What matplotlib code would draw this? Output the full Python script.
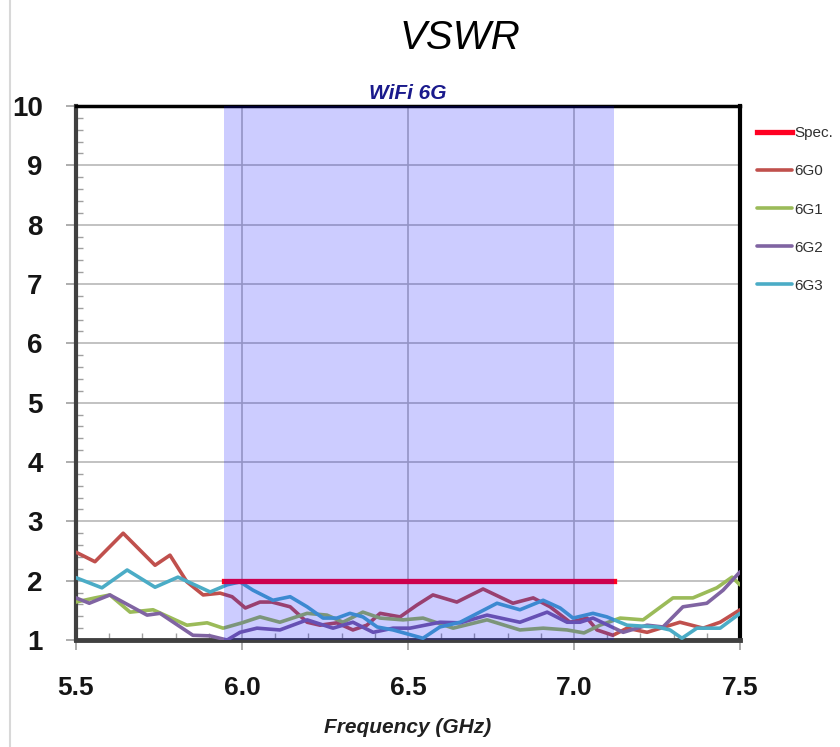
import numpy as np
import matplotlib.pyplot as plt
from matplotlib.ticker import MultipleLocator

plt.rcParams['font.family'] = ['Liberation Sans', 'DejaVu Sans']

# band / spec
band_lo, band_hi = 5.945, 7.12
spec_f = [5.945, 7.12]
spec_v = [2.0, 2.0]

# 6G0 (red)
f0 = [5.5, 5.557, 5.642, 5.738, 5.783, 5.834, 5.883, 5.934, 5.97, 6.01, 6.054, 6.09, 6.145,
      6.196, 6.235, 6.286, 6.334, 6.376, 6.416, 6.476, 6.527, 6.575, 6.647, 6.726, 6.816,
      6.877, 6.928, 6.988, 7.039, 7.069, 7.117, 7.16, 7.22, 7.319, 7.389, 7.44, 7.5]
v0 = [2.48, 2.32, 2.80, 2.26, 2.43, 1.98, 1.76, 1.79, 1.73, 1.54, 1.64, 1.64, 1.56,
      1.30, 1.25, 1.29, 1.17, 1.25, 1.45, 1.39, 1.59, 1.76, 1.64, 1.86, 1.62,
      1.71, 1.56, 1.30, 1.37, 1.17, 1.08, 1.20, 1.13, 1.30, 1.20, 1.30, 1.51]

# 6G1 (green)
f1 = [5.5, 5.557, 5.602, 5.663, 5.732, 5.834, 5.895, 5.943, 6.0, 6.054, 6.114, 6.196, 6.256,
      6.304, 6.364, 6.416, 6.485, 6.545, 6.636, 6.738, 6.837, 6.907, 6.979, 7.03, 7.078,
      7.139, 7.208, 7.298, 7.358, 7.43, 7.476, 7.5]
v1 = [1.64, 1.71, 1.76, 1.47, 1.51, 1.25, 1.29, 1.20, 1.29, 1.39, 1.30, 1.45, 1.42,
      1.30, 1.47, 1.37, 1.34, 1.37, 1.20, 1.34, 1.17, 1.20, 1.17, 1.12, 1.25,
      1.37, 1.34, 1.71, 1.71, 1.88, 2.06, 1.93]

# 6G2 (purple)
f2 = [5.5, 5.54, 5.602, 5.714, 5.753, 5.852, 5.904, 5.955, 5.994, 6.045, 6.114, 6.196, 6.274,
      6.334, 6.395, 6.455, 6.506, 6.596, 6.657, 6.738, 6.837, 6.919, 6.979, 7.018, 7.057,
      7.148, 7.22, 7.268, 7.328, 7.4, 7.449, 7.5]
v2 = [1.71, 1.62, 1.76, 1.42, 1.45, 1.08, 1.07, 1.00, 1.13, 1.20, 1.17, 1.34, 1.20,
      1.30, 1.13, 1.20, 1.20, 1.30, 1.29, 1.42, 1.30, 1.47, 1.30, 1.30, 1.37,
      1.13, 1.25, 1.22, 1.56, 1.62, 1.84, 2.15]

# 6G3 (cyan)
f3 = [5.5, 5.578, 5.654, 5.738, 5.807, 5.904, 5.955, 5.994, 6.033, 6.093, 6.145, 6.196, 6.244,
      6.286, 6.325, 6.364, 6.407, 6.455, 6.5, 6.545, 6.596, 6.657, 6.768, 6.837, 6.907,
      6.958, 6.997, 7.057, 7.099, 7.16, 7.25, 7.289, 7.325, 7.37, 7.44, 7.5]
v3 = [2.05, 1.88, 2.18, 1.89, 2.06, 1.81, 1.93, 1.98, 1.84, 1.67, 1.73, 1.56, 1.37,
      1.37, 1.45, 1.39, 1.22, 1.17, 1.10, 1.03, 1.22, 1.30, 1.62, 1.51, 1.67,
      1.54, 1.37, 1.45, 1.39, 1.25, 1.22, 1.17, 1.03, 1.20, 1.20, 1.45]

xticks = [5.5, 6.0, 6.5, 7.0, 7.5]
yticks = list(range(1, 11))

fig = plt.figure(figsize=(8.4, 7.47), dpi=100)
ax = fig.add_axes([0.0905, 0.1432, 0.7905, 0.7149])

kw = dict(lw=2.6, zorder=3, solid_joinstyle='round', solid_capstyle='round')
ax.plot(f0, v0, color='#c0504d', label='6G0', **kw)
ax.plot(f1, v1, color='#9bbb59', label='6G1', **kw)
ax.plot(f2, v2, color='#8064a2', label='6G2', **kw)
ax.plot(f3, v3, color='#4bacc6', label='6G3', **kw)
spec, = ax.plot(spec_f, spec_v, color='#ff0022', lw=3.8, label='Spec.', zorder=3.5)

# band shading laid over the curves
ax.axvspan(band_lo, band_hi, color='#0000ff', alpha=0.2, lw=0, zorder=4)

ax.set_xlim(5.5, 7.5)
ax.set_ylim(1, 10)
ax.set_xticks(xticks)
ax.set_xticklabels([f'{t:.1f}' for t in xticks])
ax.set_yticks(yticks)
ax.xaxis.set_minor_locator(MultipleLocator(0.1))
ax.yaxis.set_minor_locator(MultipleLocator(0.2))
ax.grid(True, which='major', color='#b8b8b8', lw=1.2, zorder=1)
ax.set_axisbelow(True)

ax.tick_params(axis='both', which='major', direction='out', length=7, width=1.2,
               color='#a0a0a0')
ax.tick_params(axis='both', which='minor', direction='in', length=5, width=1,
               color='#a0a0a0')
ax.tick_params(axis='y', labelsize=20, pad=17)
ax.tick_params(axis='x', labelsize=19, pad=19)
for lab in ax.get_xticklabels() + ax.get_yticklabels():
    lab.set_fontweight('bold')
    lab.set_color('#151515')

ax.spines['left'].set_color('#404040')
ax.spines['left'].set_linewidth(3)
ax.spines['bottom'].set_color('#404040')
ax.spines['bottom'].set_linewidth(3.5)
ax.spines['right'].set_color('black')
ax.spines['right'].set_linewidth(3)
ax.spines['top'].set_color('black')
ax.spines['top'].set_linewidth(2.5)

ax.set_xlabel('Frequency (GHz)', fontsize=15, fontweight='bold', style='italic',
              labelpad=13, color='#202020')

fig.text(0.548, 0.949, 'VSWR', ha='center', va='center', fontsize=29,
         style='italic', color='black')
ax.text(0.5, 1.005, 'WiFi 6G', transform=ax.transAxes, ha='center', va='bottom',
        fontsize=15, fontweight='bold', style='italic', color='#1a1a8c')

handles = [spec] + ax.get_lines()[:4]
leg = fig.legend(handles, ['Spec.', '6G0', '6G1', '6G2', '6G3'],
                 loc='upper left', bbox_to_anchor=(0.901, 0.831),
                 frameon=False, borderpad=0, borderaxespad=0,
                 handlelength=2.3, handletextpad=0.15, labelspacing=1.58,
                 prop={'size': 11})
for t in leg.get_texts():
    t.set_color('#303030')

# light border line at left of the original image
fig.add_artist(plt.Line2D([0.012, 0.012], [0.0, 1.0], color='#d8d8d8', lw=1.5,
                          transform=fig.transFigure))

fig.savefig('out.png', dpi=100)
